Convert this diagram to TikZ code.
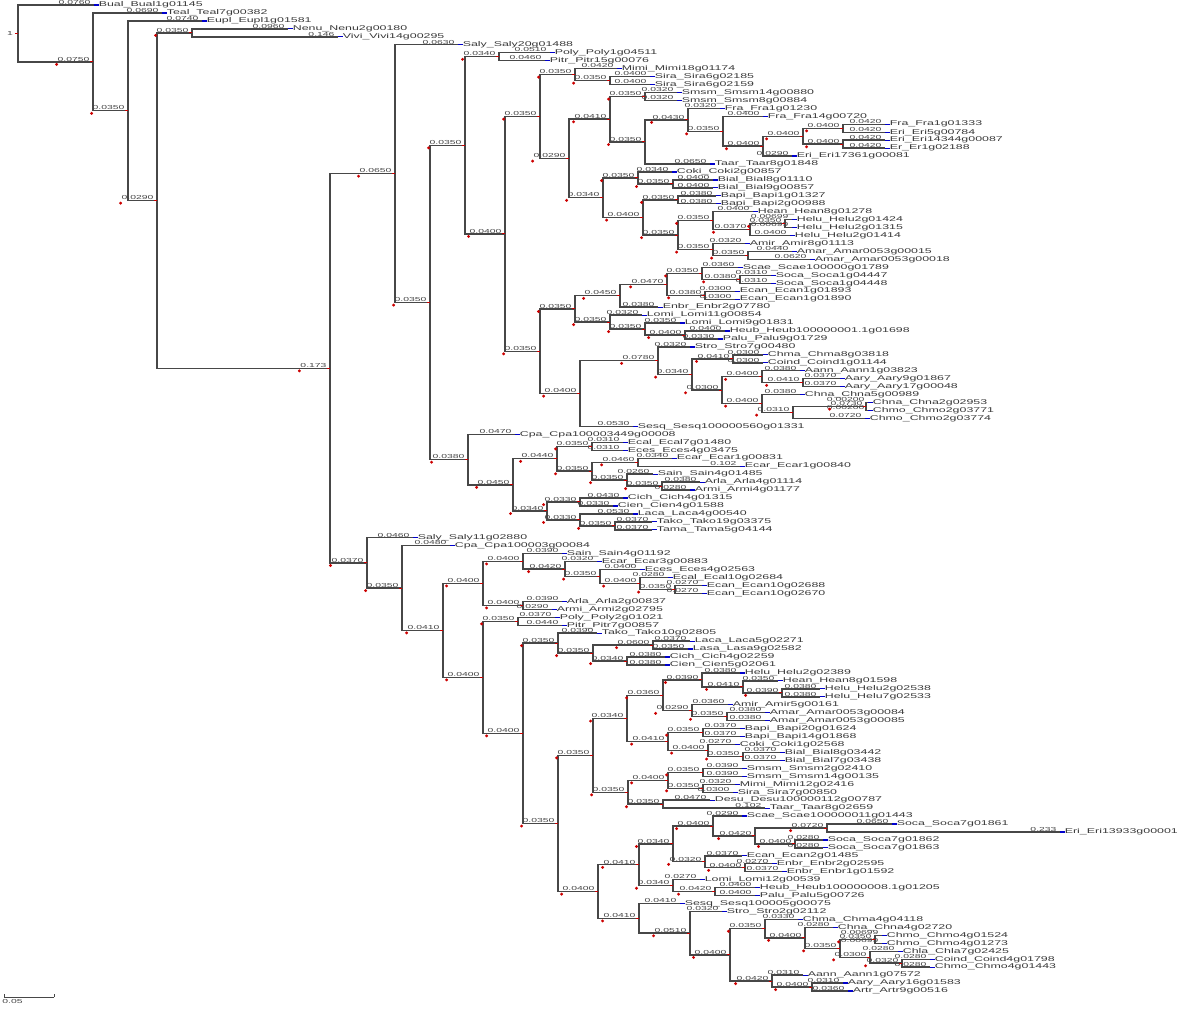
\documentclass[tikz,border=0pt]{standalone}
\usepackage{fontspec}
\setmainfont{Liberation Sans}
\usepackage{graphicx}
\usetikzlibrary{calc}

\newcommand\sq[1]{\scalebox{1}[0.56]{#1}}
% branch parent -> child, labelled with its length (1px = 0.001, three figures)
\newcommand\bran[2]{%
  \draw[branch] let \p1=(#1), \p2=(#2) in
    (#1) |- (#2) node[blen] (bl-#2) {\pgfmathsetmacro\blen{(\x2-\x1)/500}%
      \pgfmathsetmacro\bdig{int(2-floor(log10(\blen)))}%
      \sq{\pgfmathprintnumber[fixed,fixed zerofill,precision=\bdig,assume math mode=true]{\blen}}};
  \ifcsname int@#2\endcsname
    \fill[nodetick] ([yshift=-1.1pt]bl-#2.south west) circle (0.45pt);
    \draw[nodetick] ([xshift=-1.5pt]#2) -- (#2);
  \fi}
% inner node #1 at x=#2, halfway between children #3 and #4
\newcommand\inode[4]{%
  \path let \p1=(#3), \p2=(#4), \p3=(#2,0) in coordinate (#1) at (\x3,{(\y1+\y2)/2});
  \expandafter\gdef\csname int@#1\endcsname{}%
  \bran{#1}{#3}\bran{#1}{#4}}

\begin{document}
\begin{tikzpicture}[x=0.5pt,y=-0.5pt]
    \tikzstyle{branch}=[draw=black!72, line width=0.7pt]
    \tikzstyle{blen}=[anchor=south east, xshift=-1.2pt, yshift=-0.2pt, inner sep=0.2pt, text=black!72, font=\fontsize{5.2}{5.2}\selectfont]
    \tikzstyle{leaf}=[anchor=west, inner xsep=2.2pt, inner ysep=0pt, text=black!78, font=\fontsize{6.2}{6.2}\selectfont]
    \tikzstyle{leaftick}=[draw=blue!80!black, line width=0.6pt]
    \tikzstyle{nodetick}=[draw=red!80!black, fill=red!80!black, line width=0.5pt]

    \useasboundingbox (0,0) rectangle (1200,1008);

	% leaves, top to bottom: name / tip x / label
	\foreach \c/\px/\t [count=\i from 0] in {
		Bual/94/Bual\_Bual1g01145, Teal/162/Teal\_Teal7g00382, Eupl/202/Eupl\_Eupl1g01581,
		Nenu/288/Nenu\_Nenu2g00180, Vivi/338/Vivi\_Vivi14g00295, SalyA/458/Saly\_Saly20g01488,
		PolyA/550/Poly\_Poly1g04511, PitrA/545/Pitr\_Pitr15g00076, MimiA/617/Mimi\_Mimi18g01174,
		SiraA/650/Sira\_Sira6g02185, SiraB/650/Sira\_Sira6g02159, SmsmA/677/Smsm\_Smsm14g00880,
		SmsmB/677/Smsm\_Smsm8g00884, FraA/720/Fra\_Fra1g01230, FraB/763/Fra\_Fra14g00720,
		FraC/885/Fra\_Fra1g01333, EriA/885/Eri\_Eri5g00784, EriB/885/Eri\_Eri14344g00087,
		ErA/885/Er\_Er1g02188, EriC/792/Eri\_Eri17361g00081, TaarA/710/Taar\_Taar8g01848,
		CokiA/672/Coki\_Coki2g00857, BialA/713/Bial\_Bial8g01110, BialB/713/Bial\_Bial9g00857,
		BapiA/716/Bapi\_Bapi1g01327, BapiB/716/Bapi\_Bapi2g00988, HeanA/753/Hean\_Hean8g01278,
		HeluA/792/Helu\_Helu2g01424, HeluB/792/Helu\_Helu2g01315, HeluC/790/Helu\_Helu2g01414,
		AmirA/745/Amir\_Amir8g01113, AmarA/792/Amar\_Amar0053g00015, AmarB/810/Amar\_Amar0053g00018,
		ScaeA/738/Scae\_Scae100000g01789, SocaA/771/Soca\_Soca1g04447, SocaB/771/Soca\_Soca1g04448,
		EcanA/735/Ecan\_Ecan1g01893, EcanB/735/Ecan\_Ecan1g01890, EnbrA/658/Enbr\_Enbr2g07780,
		LomiA/642/Lomi\_Lomi11g00854, LomiB/680/Lomi\_Lomi9g01831, HeubA/725/Heub\_Heub100000001.1g01698,
		PaluA/718/Palu\_Palu9g01729, StroA/690/Stro\_Stro7g00480, ChmaA/763/Chma\_Chma8g03818,
		CoinA/763/Coind\_Coind1g01144, AannA/800/Aann\_Aann1g03823, AaryA/840/Aary\_Aary9g01867,
		AaryB/840/Aary\_Aary17g00048, ChnaA/800/Chna\_Chna5g00989, ChnaB/868/Chna\_Chna2g02953,
		ChmoA/868/Chmo\_Chmo2g03771, ChmoB/865/Chmo\_Chmo2g03774, SesqA/633/Sesq\_Sesq100000560g01331,
		CpaA/515/Cpa\_Cpa100003449g00008, EcalA/623/Ecal\_Ecal7g01480, EcesA/623/Eces\_Eces4g03475,
		EcarA/672/Ecar\_Ecar1g00831, EcarB/740/Ecar\_Ecar1g00840, SainA/653/Sain\_Sain4g01485,
		ArlaA/700/Arla\_Arla4g01114, ArmiA/690/Armi\_Armi4g01177, CichA/623/Cich\_Cich4g01315,
		CienA/613/Cien\_Cien4g01588, LacaA/633/Laca\_Laca4g00540, TakoA/652/Tako\_Tako19g03375,
		TamaA/652/Tama\_Tama5g04144, SalyB/413/Saly\_Saly11g02880, CpaB/450/Cpa\_Cpa100003g00084,
		SainB/562/Sain\_Sain4g01192, EcarC/597/Ecar\_Ecar3g00883, EcesB/640/Eces\_Eces4g02563,
		EcalB/668/Ecal\_Ecal10g02684, EcanC/702/Ecan\_Ecan10g02688, EcanD/702/Ecan\_Ecan10g02670,
		ArlaB/562/Arla\_Arla2g00837, ArmiB/552/Armi\_Armi2g02795, PolyB/555/Poly\_Poly2g01021,
		PitrB/562/Pitr\_Pitr7g00857, TakoB/597/Tako\_Tako10g02805, LacaB/690/Laca\_Laca5g02271,
		LasaA/688/Lasa\_Lasa9g02582, CichB/665/Cich\_Cich4g02259, CienB/665/Cien\_Cien5g02061,
		HeluD/740/Helu\_Helu2g02389, HeanB/778/Hean\_Hean8g01598, HeluE/820/Helu\_Helu2g02538,
		HeluF/820/Helu\_Helu7g02533, AmirB/728/Amir\_Amir5g00161, AmarC/765/Amar\_Amar0053g00084,
		AmarD/765/Amar\_Amar0053g00085, BapiC/740/Bapi\_Bapi20g01624, BapiD/740/Bapi\_Bapi14g01868,
		CokiB/735/Coki\_Coki1g02568, BialC/780/Bial\_Bial8g03442, BialD/780/Bial\_Bial7g03438,
		SmsmC/742/Smsm\_Smsm2g02410, SmsmD/742/Smsm\_Smsm14g00135, MimiB/735/Mimi\_Mimi12g02416,
		SiraC/733/Sira\_Sira7g00850, DesuA/710/Desu\_Desu100000112g00787, TaarB/765/Taar\_Taar8g02659,
		ScaeB/742/Scae\_Scae100000011g01443, SocaC/892/Soca\_Soca7g01861, EriD/1060/Eri\_Eri13933g00001,
		SocaD/823/Soca\_Soca7g01862, SocaE/823/Soca\_Soca7g01863, EcanE/742/Ecan\_Ecan2g01485,
		EnbrB/772/Enbr\_Enbr2g02595, EnbrC/782/Enbr\_Enbr1g01592, LomiC/700/Lomi\_Lomi12g00539,
		HeubB/755/Heub\_Heub100000008.1g01205, PaluB/755/Palu\_Palu5g00726, SesqB/680/Sesq\_Sesq100005g00075,
		StroB/722/Stro\_Stro2g02112, ChmaB/798/Chma\_Chma4g04118, ChnaC/833/Chna\_Chna4g02720,
		ChmoC/882/Chmo\_Chmo4g01524, ChmoD/882/Chmo\_Chmo4g01273, ChlaA/898/Chla\_Chla7g02425,
		CoinB/930/Coind\_Coind4g01798, ChmoE/930/Chmo\_Chmo4g01443, AannB/803/Aann\_Aann1g07572,
		AaryC/843/Aary\_Aary16g01583, ArtrA/848/Artr\_Artr9g00516}{
		\coordinate (\c) at (\px,{5+\i*7.9516});
		\draw[leaftick] (\c) -- ++(4.5,0);
		\node[leaf] (t-\c) at (\c) {\sq{\t}};
	}

	% inner nodes, children first: name / x / upper child / lower child
	\foreach \nm/\xx/\ca/\cb in {
		pSira/610/SiraA/SiraB, nO/575/MimiA/pSira, pSmsm/645/SmsmA/SmsmB,
		nY/843/FraC/EriA, nZ/843/EriB/ErA, nX/803/nY/nZ, nW/763/nX/EriC,
		nU/723/FraB/nW, nT/688/FraA/nU, nS/645/nT/TaarA, nQ/610/pSmsm/nS,
		pBial/673/BialA/BialB, nAA/638/CokiA/pBial, pBapi/678/BapiA/BapiB,
		pHelu/785/HeluA/HeluB, nFF/750/pHelu/HeluC, nDD/713/HeanA/nFF,
		pAmar/748/AmarA/AmarB, nEE/713/AmirA/pAmar, nCC/678/nDD/nEE,
		nBB/643/pBapi/nCC, nR/603/nAA/nBB, nP/569/nQ/nR, nN/540/nO/nP,
		pScSo/740/SocaA/SocaB, nSc/702/ScaeA/pScSo, pEcan/705/EcanA/EcanB,
		nMa/667/nSc/pEcan, nMb/620/nMa/EnbrA, pHePa/685/HeubA/PaluA,
		nLo/645/LomiB/pHePa, nMc/610/LomiA/nLo, nM/575/nMb/nMc,
		pChCo/733/ChmaA/CoinA, pAary/803/AaryA/AaryB, nAa/762/AannA/pAary,
		pChna/866/ChnaB/ChmoA, nChc/793/pChna/ChmoB, nChb/762/ChnaA/nChc,
		nLN/722/nAa/nChb, nLM/692/pChCo/nLN, nLL/658/StroA/nLM,
		nL/580/nLL/SesqA, nK/540/nM/nL, nJ/505/nN/nK,
		pPoPi/499/PolyA/PitrA, nH/465/pPoPi/nJ,
		pEcEc/592/EcalA/EcesA, pEcar/638/EcarA/EcarB, pArAr/662/ArlaA/ArmiA,
		nSa/627/SainA/pArAr, nEcb/592/pEcar/nSa, nEc/557/pEcEc/nEcb,
		pCiCi/580/CichA/CienA, pTaTa/615/TakoA/TamaA, nLa/580/LacaA/pTaTa,
		nCi/547/pCiCi/nLa, nII/513/nEc/nCi, nI/468/CpaA/nII,
		nG/430/nH/nI, nF/395/SalyA/nG,
		pEcanb/675/EcanC/EcanD, nEcd/640/EcalB/pEcanb, nEce/600/EcesB/nEcd,
		nEcf/565/EcarC/nEce, nSb/523/SainB/nEcf, pArArb/523/ArlaB/ArmiB,
		nA2/483/nSb/pArArb, pPoPib/518/PolyB/PitrB,
		pLaLa/653/LacaB/LasaA, pCiCib/627/CichB/CienB, nLc/593/pLaLa/pCiCib,
		nD2/558/TakoB/nLc,
		pHelub/782/HeluE/HeluF, nHeb/743/HeanB/pHelub, nHec/702/HeluD/nHeb,
		pAmarb/727/AmarC/AmarD, nAmb/692/AmirB/pAmarb, nI2/663/nHec/nAmb,
		pBapib/703/BapiC/BapiD, pBialb/743/BialC/BialD, nCob/708/CokiB/pBialb,
		nBab/668/pBapib/nCob, nH2/627/nI2/nBab,
		pSmsmb/703/SmsmC/SmsmD, pMiSi/703/MimiB/SiraC, nK2/668/pSmsmb/pMiSi,
		pDeTa/663/DesuA/TaarB, nJ2/628/nK2/pDeTa, nF2/593/nH2/nJ2,
		pSoEr/827/SocaC/EriD, pSocab/795/SocaD/SocaE, nSoc/755/pSoEr/pSocab,
		nScb/713/ScaeB/nSoc, pEnbr/745/EnbrB/EnbrC, nEnb/705/EcanE/pEnbr,
		nO2/673/nScb/nEnb, pHePab/715/HeubB/PaluB, nP2/673/LomiC/pHePab,
		nM2/639/nO2/nP2,
		pCoCh/902/CoinB/ChmoE, nChla/870/ChlaA/pCoCh, pChmo/875/ChmoC/ChmoD,
		nChd/840/pChmo/nChla, nChe/805/ChnaC/nChd, nS2/765/ChmaB/nChe,
		pAaAr/812/AaryC/ArtrA, nT2/772/AannB/pAaAr, nR2/730/nS2/nT2,
		nQ2/690/StroB/nR2, nN2/639/SesqB/nQ2, nG2/598/nM2/nN2,
		nE2/558/nF2/nG2, nC2/523/nD2/nE2, nB2/483/pPoPib/nC2,
		nAb/443/nA2/nB2, nCpb/402/CpaB/nAb, nSlb/367/SalyB/nCpb,
		nE/330/nF/nSlb, pNeVi/192/Nenu/Vivi, nC/157/pNeVi/nE,
		nB/128/Eupl/nC, nA/93/Teal/nB, root/18/Bual/nA}{
		\inode{\nm}{\xx}{\ca}{\cb}
	}

	\draw[nodetick] ([xshift=-1.5pt]root) -- (root);
	\node[blen, anchor=east] (rootlab) at ([xshift=-1pt]root) {\sq{1}};

	% scale bar
	\coordinate (sb-a) at (4,997);
	\coordinate (sb-b) at (54,997);
	\draw[branch, line width=0.4pt] (sb-a) -- (sb-b);
	\draw[branch, line width=0.4pt] (sb-a) -- ++(0,-3);
	\draw[branch, line width=0.4pt] (sb-b) -- ++(0,-3);
	\node[blen, anchor=north west] (sb-lab) at ([yshift=-0.8pt]sb-a) {\sq{0.05}};
\end{tikzpicture}
\end{document}
